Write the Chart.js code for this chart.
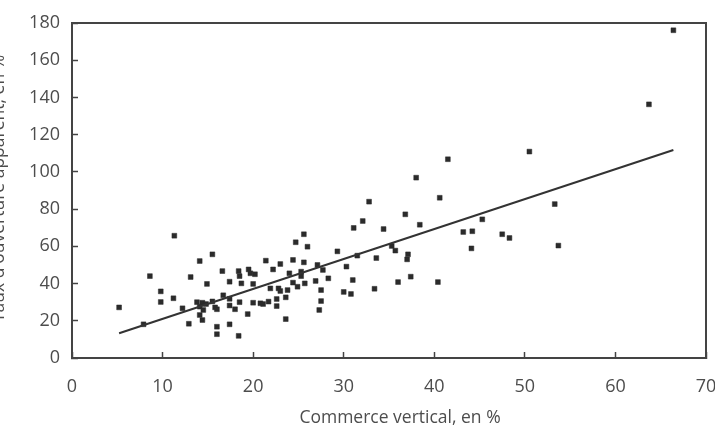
<!DOCTYPE html>
<html>
<head>
<meta charset="utf-8">
<script src="https://cdn.jsdelivr.net/npm/chart.js@4"></script>
<style>
  html, body { margin: 0; padding: 0; background: #fff; }
  #wrap { width: 715px; height: 428px; }
</style>
</head>
<body>
<div id="wrap"><canvas id="scatterChart" width="715" height="428"></canvas></div>
<script>
// Commerce vertical (x) and taux d'ouverture apparent (y), in %
const commerceVertical = [
  5.2, 7.9, 8.6, 9.8, 9.8, 11.2, 11.3, 12.2, 12.9, 13.1, 14.1, 14.9, 15.5,
  13.8, 14.4, 14.8, 15.5, 14.1, 14.5, 14.1, 14.4, 15.8, 16.0, 16.0, 16.0,
  16.6, 16.7, 17.4, 17.4, 17.4, 17.4, 18.0, 18.4, 18.4, 18.5, 18.5, 18.7,
  19.4, 19.5, 19.7, 20.0, 20.0, 20.2, 20.8, 21.1, 21.4, 21.7, 21.9, 22.2,
  22.6, 22.6, 22.8, 23.0, 23.0, 23.6, 23.6, 23.8, 24.0, 24.4, 24.4, 24.7,
  24.9, 25.3, 25.3, 25.6, 25.6, 25.7, 26.0, 26.9, 27.1, 27.5, 27.5, 27.3,
  27.7, 28.3,
  29.3, 30.0, 30.3, 30.8, 31.0, 31.1, 31.5, 32.1, 32.8, 33.4, 33.6, 34.4,
  35.3, 35.7, 36.0, 36.8, 37.1, 37.0, 37.4, 38.0, 38.4, 40.4, 40.6, 41.5,
  43.2, 44.2, 44.1, 45.3, 47.5, 48.3, 50.5, 53.3, 53.7, 63.7, 66.4
];
const tauxOuverture = [
  27.2, 18.1, 44.0, 35.8, 30.1, 32.1, 65.7, 26.7, 18.4, 43.5, 52.1, 39.8, 55.7,
  30.0, 29.7, 29.0, 30.4, 27.6, 25.8, 23.1, 20.4, 27.2, 26.2, 16.8, 12.8,
  46.7, 33.7, 41.0, 31.8, 28.2, 18.1, 26.2, 46.7, 11.9, 44.0, 30.0, 40.1,
  23.6, 47.6, 45.5, 39.8, 29.7, 45.0, 29.4, 29.0, 52.3, 30.3, 37.4, 47.6,
  31.7, 27.9, 37.4, 50.5, 36.0, 32.6, 20.9, 36.5, 45.5, 52.7, 40.5, 62.2,
  38.3, 46.4, 44.0, 66.5, 51.4, 40.1, 59.8, 41.4, 50.0, 36.5, 30.6, 25.8,
  47.3, 42.8,
  57.3, 35.5, 49.1, 34.4, 41.9, 69.9, 55.0, 73.6, 84.0, 37.2, 53.7, 69.3,
  60.2, 57.7, 40.8, 77.2, 55.7, 53.0, 43.7, 96.9, 71.6, 40.8, 86.1, 106.8,
  67.7, 68.1, 58.9, 74.5, 66.5, 64.5, 110.9, 82.7, 60.4, 136.3, 176.1
];

// regression line end points
const trendX = [5.2, 66.4];
const trendY = [13.3, 111.8];

const xTitle = "Commerce vertical, en %";
const yTitle = "Taux d'ouverture apparent, en %";

const inkColor = "#2b2b2b";
const axisColor = "#444";
const textColor = "#4d4d4d";
const fontFamily = "'Open Sans', sans-serif";

const points = commerceVertical.map((x, i) => ({ x, y: tauxOuverture[i] }));
const trend = trendX.map((x, i) => ({ x, y: trendY[i] }));

// frame round the plot + axis titles
const framePlugin = {
  id: "frame",
  afterDraw(chart) {
    const { ctx, chartArea: a } = chart;
    ctx.save();
    ctx.strokeStyle = axisColor;
    ctx.lineWidth = 2;
    ctx.strokeRect(a.left, a.top, a.right - a.left, a.bottom - a.top);

    ctx.fillStyle = textColor;
    ctx.font = "17.5px " + fontFamily;
    ctx.textAlign = "center";
    ctx.textBaseline = "middle";
    ctx.fillText(xTitle, 400, 418);

    ctx.translate(4, (a.top + a.bottom) / 2 - 2);
    ctx.rotate(-Math.PI / 2);
    ctx.textBaseline = "alphabetic";
    ctx.fillText(yTitle, 0, 0);
    ctx.restore();
  }
};

new Chart(document.getElementById("scatterChart"), {
  type: "scatter",
  data: {
    datasets: [
      {
        type: "line",
        data: trend,
        borderColor: "#333",
        borderWidth: 2,
        pointRadius: 0,
        fill: false,
        order: 0
      },
      {
        data: points,
        pointStyle: "rect",
        pointRadius: 3.4,
        backgroundColor: inkColor,
        borderColor: inkColor,
        borderWidth: 0.5,
        order: 1
      }
    ]
  },
  options: {
    responsive: false,
    animation: false,
    layout: { padding: { top: 23, right: 9, left: 0, bottom: 0 } },
    plugins: {
      legend: { display: false },
      tooltip: { enabled: false }
    },
    scales: {
      x: {
        type: "linear",
        min: 0,
        max: 70,
        ticks: {
          stepSize: 10,
          color: textColor,
          padding: 24,
          font: { family: fontFamily, size: 18 }
        },
        grid: {
          drawOnChartArea: false,
          tickLength: -6,
          color: axisColor,
          tickWidth: 1.5
        },
        border: { color: axisColor, width: 2 },
        afterFit(s) {
          s.height = 70;
          s.paddingLeft = 0;
          s.paddingRight = 0;
        }
      },
      y: {
        min: 0,
        max: 180,
        ticks: {
          stepSize: 20,
          color: textColor,
          padding: 18,
          font: { family: fontFamily, size: 18 }
        },
        grid: {
          drawOnChartArea: false,
          tickLength: -6,
          color: axisColor,
          tickWidth: 1.5
        },
        border: { color: axisColor, width: 2 },
        afterFit(s) {
          s.width = 72;
          s.paddingTop = 0;
          s.paddingBottom = 0;
        }
      }
    }
  },
  plugins: [framePlugin]
});
</script>
</body>
</html>
